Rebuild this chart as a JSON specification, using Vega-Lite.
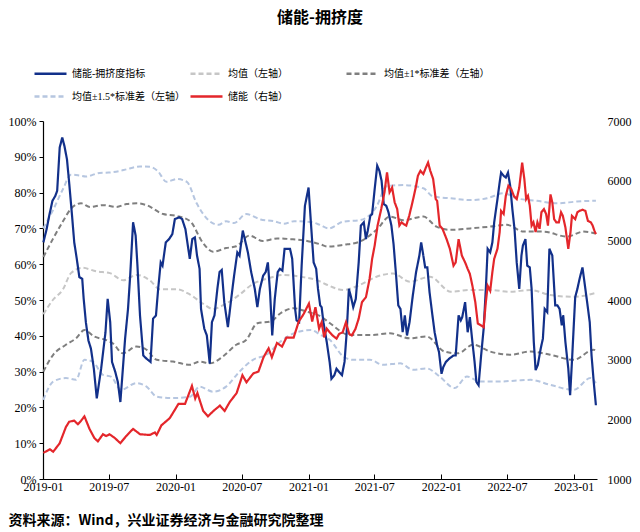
{
"$schema": "https://vega.github.io/schema/vega-lite/v6.json",
"width": 554, "height": 358,
"autosize": {"type": "none"},
"padding": {"left": 43, "top": 121, "right": 43, "bottom": 53},
"title": {"text": "储能-拥挤度", "font": "Noto Sans CJK SC", "fontSize": 16, "fontWeight": "bold", "color": "#000", "anchor": "middle", "offset": 30},
"datasets": {
"mean": [{"d":"2019-01-02","v":46},{"d":"2019-01-28","v":50},{"d":"2019-02-25","v":53},{"d":"2019-03-19","v":57.5},{"d":"2019-04-19","v":59},{"d":"2019-05-28","v":58},{"d":"2019-07-04","v":57.5},{"d":"2019-08-10","v":55.5},{"d":"2019-09-16","v":57},{"d":"2019-10-22","v":55.5},{"d":"2019-11-19","v":53},{"d":"2020-01-04","v":53},{"d":"2020-02-10","v":51.5},{"d":"2020-03-16","v":49},{"d":"2020-04-13","v":47.5},{"d":"2020-05-19","v":49},{"d":"2020-06-25","v":51.5},{"d":"2020-08-01","v":54.5},{"d":"2020-09-10","v":56},{"d":"2020-10-25","v":57},{"d":"2020-12-10","v":56.5},{"d":"2021-01-25","v":55.5},{"d":"2021-02-22","v":54.2},{"d":"2021-04-07","v":52.8},{"d":"2021-05-22","v":54.2},{"d":"2021-07-07","v":56.5},{"d":"2021-08-22","v":57.4},{"d":"2021-10-07","v":55.1},{"d":"2021-12-01","v":56.5},{"d":"2022-01-28","v":52.3},{"d":"2022-03-22","v":52.8},{"d":"2022-05-16","v":52.8},{"d":"2022-07-10","v":52.3},{"d":"2022-09-04","v":52.8},{"d":"2022-10-28","v":51.4},{"d":"2023-01-01","v":50.9},{"d":"2023-03-03","v":52.0}],
"u1": [{"d":"2019-01-02","v":62},{"d":"2019-01-28","v":67},{"d":"2019-02-25","v":72},{"d":"2019-03-19","v":75.5},{"d":"2019-04-16","v":77},{"d":"2019-05-10","v":76},{"d":"2019-06-16","v":76.5},{"d":"2019-07-22","v":76},{"d":"2019-08-19","v":76.8},{"d":"2019-09-16","v":77},{"d":"2019-10-13","v":76.5},{"d":"2019-11-28","v":74},{"d":"2020-01-04","v":73.5},{"d":"2020-02-10","v":72},{"d":"2020-03-16","v":66},{"d":"2020-04-13","v":63.5},{"d":"2020-05-19","v":64.5},{"d":"2020-06-16","v":65},{"d":"2020-07-22","v":68},{"d":"2020-08-28","v":66.5},{"d":"2020-10-07","v":67.2},{"d":"2020-11-13","v":67},{"d":"2020-12-28","v":66.5},{"d":"2021-02-04","v":65.5},{"d":"2021-02-22","v":64.9},{"d":"2021-04-07","v":65.4},{"d":"2021-05-22","v":66.3},{"d":"2021-07-07","v":69.6},{"d":"2021-08-13","v":73.3},{"d":"2021-09-19","v":72.3},{"d":"2021-11-13","v":73.3},{"d":"2021-12-19","v":70.5},{"d":"2022-01-28","v":69.6},{"d":"2022-03-22","v":70.0},{"d":"2022-05-16","v":70.5},{"d":"2022-07-01","v":71.0},{"d":"2022-08-16","v":69.1},{"d":"2022-10-10","v":69.1},{"d":"2022-12-13","v":67.7},{"d":"2023-01-28","v":69.1},{"d":"2023-03-03","v":68.6}],
"l1": [{"d":"2019-01-02","v":30},{"d":"2019-01-29","v":34.7},{"d":"2019-03-05","v":37.5},{"d":"2019-04-02","v":39.3},{"d":"2019-04-25","v":41.6},{"d":"2019-05-22","v":39.8},{"d":"2019-06-24","v":38.8},{"d":"2019-07-12","v":37.9},{"d":"2019-08-09","v":35.1},{"d":"2019-09-15","v":37},{"d":"2019-10-13","v":36.1},{"d":"2019-11-10","v":33.3},{"d":"2019-12-25","v":32.8},{"d":"2020-02-10","v":31.9},{"d":"2020-03-07","v":32.8},{"d":"2020-04-04","v":32.3},{"d":"2020-05-10","v":34.2},{"d":"2020-06-16","v":37.5},{"d":"2020-07-13","v":38.8},{"d":"2020-08-13","v":43.5},{"d":"2020-09-19","v":44},{"d":"2020-10-16","v":46.3},{"d":"2020-11-22","v":47.7},{"d":"2020-12-28","v":46.7},{"d":"2021-02-04","v":45.4},{"d":"2021-03-01","v":43.5},{"d":"2021-04-25","v":40.2},{"d":"2021-06-19","v":40.2},{"d":"2021-08-13","v":40.7},{"d":"2021-10-07","v":39.3},{"d":"2021-11-22","v":39.8},{"d":"2022-01-10","v":35.6},{"d":"2022-02-16","v":35.1},{"d":"2022-03-30","v":37.5},{"d":"2022-05-16","v":35.6},{"d":"2022-07-10","v":34.7},{"d":"2022-09-04","v":35.6},{"d":"2022-10-28","v":34.7},{"d":"2023-01-01","v":33.3},{"d":"2023-02-25","v":36.1},{"d":"2023-03-03","v":35.8}],
"u15": [{"d":"2019-01-02","v":70},{"d":"2019-01-28","v":75},{"d":"2019-02-25","v":81},{"d":"2019-03-19","v":85},{"d":"2019-04-10","v":84.8},{"d":"2019-04-29","v":84.5},{"d":"2019-06-06","v":85.5},{"d":"2019-07-01","v":85.6},{"d":"2019-07-30","v":86},{"d":"2019-08-19","v":86.5},{"d":"2019-09-25","v":87.3},{"d":"2019-10-22","v":87.2},{"d":"2019-11-13","v":86},{"d":"2019-12-07","v":83},{"d":"2020-01-04","v":83.8},{"d":"2020-02-01","v":83},{"d":"2020-02-28","v":77},{"d":"2020-04-04","v":72},{"d":"2020-04-28","v":71},{"d":"2020-05-19","v":72},{"d":"2020-06-10","v":71.5},{"d":"2020-07-13","v":74},{"d":"2020-08-22","v":72.5},{"d":"2020-09-28","v":72},{"d":"2020-10-25","v":71.3},{"d":"2020-11-22","v":72},{"d":"2021-01-07","v":71.8},{"d":"2021-02-01","v":71},{"d":"2021-02-25","v":70},{"d":"2021-04-07","v":71.9},{"d":"2021-05-22","v":72.3},{"d":"2021-06-16","v":73.5},{"d":"2021-07-07","v":76.1},{"d":"2021-08-04","v":81.8},{"d":"2021-09-19","v":82.1},{"d":"2021-11-13","v":81.2},{"d":"2021-12-10","v":78.9},{"d":"2022-01-28","v":78.4},{"d":"2022-03-22","v":77.9},{"d":"2022-05-07","v":78.4},{"d":"2022-06-22","v":79.8},{"d":"2022-07-28","v":78.4},{"d":"2022-09-22","v":77.7},{"d":"2022-11-16","v":77.0},{"d":"2023-01-10","v":77.5},{"d":"2023-02-25","v":77.7},{"d":"2023-03-03","v":77.7}],
"l15": [{"d":"2019-01-02","v":22.1},{"d":"2019-01-29","v":27.2},{"d":"2019-03-05","v":28.2},{"d":"2019-04-02","v":27.7},{"d":"2019-04-25","v":33.3},{"d":"2019-05-18","v":32.8},{"d":"2019-06-15","v":29.1},{"d":"2019-07-07","v":28.6},{"d":"2019-08-04","v":24.9},{"d":"2019-09-15","v":26.8},{"d":"2019-10-13","v":25.8},{"d":"2019-11-10","v":23},{"d":"2019-12-25","v":22.6},{"d":"2020-02-10","v":23},{"d":"2020-03-07","v":25.8},{"d":"2020-04-13","v":24.4},{"d":"2020-05-19","v":25.8},{"d":"2020-06-25","v":30},{"d":"2020-08-01","v":33.3},{"d":"2020-09-07","v":34.7},{"d":"2020-10-16","v":38.4},{"d":"2020-11-22","v":40.7},{"d":"2021-01-07","v":41.6},{"d":"2021-02-04","v":40.2},{"d":"2021-03-01","v":38.8},{"d":"2021-04-07","v":34.2},{"d":"2021-05-04","v":33.3},{"d":"2021-06-19","v":33.3},{"d":"2021-07-25","v":31.9},{"d":"2021-09-10","v":32.3},{"d":"2021-10-16","v":30.5},{"d":"2021-11-22","v":30.9},{"d":"2021-12-28","v":28.6},{"d":"2022-02-07","v":25.4},{"d":"2022-03-13","v":28.6},{"d":"2022-04-19","v":27.2},{"d":"2022-06-04","v":27.2},{"d":"2022-07-28","v":27.5},{"d":"2022-09-04","v":27.7},{"d":"2022-10-28","v":26.3},{"d":"2023-01-01","v":24.9},{"d":"2023-02-16","v":28.2},{"d":"2023-03-03","v":26.8}],
"blue": [{"d":"2019-01-02","v":66.1},{"d":"2019-01-11","v":69.8},{"d":"2019-01-18","v":73.5},{"d":"2019-01-27","v":77.7},{"d":"2019-02-04","v":79.1},{"d":"2019-02-09","v":80.5},{"d":"2019-02-16","v":92.6},{"d":"2019-02-23","v":95.4},{"d":"2019-03-01","v":93.0},{"d":"2019-03-08","v":89.3},{"d":"2019-03-14","v":82.8},{"d":"2019-03-22","v":73.5},{"d":"2019-03-28","v":66.1},{"d":"2019-04-04","v":61.5},{"d":"2019-04-11","v":56.4},{"d":"2019-04-19","v":55.9},{"d":"2019-04-23","v":50.3},{"d":"2019-04-29","v":43.8},{"d":"2019-05-06","v":38.7},{"d":"2019-05-13","v":36.4},{"d":"2019-05-21","v":30.8},{"d":"2019-05-29","v":22.5},{"d":"2019-06-10","v":30.8},{"d":"2019-06-22","v":41.0},{"d":"2019-06-28","v":50.3},{"d":"2019-07-05","v":43.8},{"d":"2019-07-10","v":32.7},{"d":"2019-07-19","v":29.9},{"d":"2019-07-26","v":27.1},{"d":"2019-08-02","v":21.5},{"d":"2019-08-15","v":39.2},{"d":"2019-08-23","v":47.5},{"d":"2019-08-29","v":56.8},{"d":"2019-09-06","v":71.7},{"d":"2019-09-13","v":68.0},{"d":"2019-09-18","v":59.6},{"d":"2019-09-25","v":45.7},{"d":"2019-10-04","v":34.5},{"d":"2019-10-13","v":33.6},{"d":"2019-10-24","v":32.7},{"d":"2019-10-31","v":44.8},{"d":"2019-11-08","v":45.7},{"d":"2019-11-14","v":53.1},{"d":"2019-11-21","v":60.5},{"d":"2019-11-26","v":59.6},{"d":"2019-12-05","v":66.1},{"d":"2019-12-14","v":67.0},{"d":"2019-12-23","v":68.4},{"d":"2019-12-30","v":72.6},{"d":"2020-01-11","v":73.1},{"d":"2020-01-19","v":72.6},{"d":"2020-01-28","v":69.8},{"d":"2020-02-05","v":64.3},{"d":"2020-02-09","v":61.5},{"d":"2020-02-16","v":67.0},{"d":"2020-02-23","v":67.5},{"d":"2020-02-29","v":62.4},{"d":"2020-03-07","v":58.7},{"d":"2020-03-11","v":47.5},{"d":"2020-03-20","v":42.0},{"d":"2020-03-27","v":40.1},{"d":"2020-04-04","v":32.2},{"d":"2020-04-10","v":43.8},{"d":"2020-04-17","v":45.7},{"d":"2020-04-25","v":53.1},{"d":"2020-05-01","v":57.8},{"d":"2020-05-07","v":58.4},{"d":"2020-05-14","v":49.4},{"d":"2020-05-24","v":42.4},{"d":"2020-06-01","v":49.4},{"d":"2020-06-10","v":56.8},{"d":"2020-06-19","v":63.3},{"d":"2020-06-25","v":62.4},{"d":"2020-07-04","v":69.4},{"d":"2020-07-18","v":63.3},{"d":"2020-07-27","v":57.8},{"d":"2020-08-06","v":53.1},{"d":"2020-08-13","v":48.0},{"d":"2020-08-20","v":53.1},{"d":"2020-08-29","v":56.8},{"d":"2020-09-05","v":57.8},{"d":"2020-09-11","v":60.5},{"d":"2020-09-17","v":52.2},{"d":"2020-09-23","v":40.1},{"d":"2020-09-30","v":50.3},{"d":"2020-10-08","v":57.8},{"d":"2020-10-14","v":58.7},{"d":"2020-10-21","v":58.2},{"d":"2020-10-27","v":64.3},{"d":"2020-11-02","v":64.3},{"d":"2020-11-11","v":64.3},{"d":"2020-11-17","v":61.5},{"d":"2020-11-25","v":47.5},{"d":"2020-11-29","v":44.3},{"d":"2020-12-06","v":43.8},{"d":"2020-12-13","v":59.6},{"d":"2020-12-22","v":76.3},{"d":"2021-01-01","v":81.4},{"d":"2021-01-08","v":70.8},{"d":"2021-01-15","v":60.5},{"d":"2021-01-22","v":58.7},{"d":"2021-01-27","v":53.1},{"d":"2021-02-02","v":48.5},{"d":"2021-02-06","v":48.0},{"d":"2021-02-11","v":43.8},{"d":"2021-02-20","v":38.3},{"d":"2021-02-28","v":32.7},{"d":"2021-03-05","v":28.0},{"d":"2021-03-13","v":29.0},{"d":"2021-03-19","v":30.8},{"d":"2021-03-26","v":29.9},{"d":"2021-04-03","v":29.0},{"d":"2021-04-10","v":32.7},{"d":"2021-04-16","v":41.0},{"d":"2021-04-22","v":53.1},{"d":"2021-04-28","v":50.8},{"d":"2021-05-04","v":48.0},{"d":"2021-05-11","v":50.3},{"d":"2021-05-19","v":60.5},{"d":"2021-05-25","v":70.8},{"d":"2021-06-02","v":71.7},{"d":"2021-06-08","v":67.0},{"d":"2021-06-13","v":69.4},{"d":"2021-06-20","v":73.5},{"d":"2021-06-25","v":74.0},{"d":"2021-07-02","v":81.0},{"d":"2021-07-09","v":87.5},{"d":"2021-07-15","v":86.1},{"d":"2021-07-21","v":83.3},{"d":"2021-07-27","v":76.8},{"d":"2021-08-03","v":76.3},{"d":"2021-08-09","v":74.5},{"d":"2021-08-17","v":70.8},{"d":"2021-08-23","v":65.6},{"d":"2021-08-30","v":56.8},{"d":"2021-09-05","v":48.5},{"d":"2021-09-11","v":47.5},{"d":"2021-09-17","v":41.0},{"d":"2021-09-23","v":45.7},{"d":"2021-09-29","v":40.1},{"d":"2021-10-06","v":43.8},{"d":"2021-10-15","v":51.3},{"d":"2021-10-24","v":57.8},{"d":"2021-11-02","v":62.4},{"d":"2021-11-07","v":66.1},{"d":"2021-11-13","v":62.4},{"d":"2021-11-18","v":59.1},{"d":"2021-11-24","v":59.1},{"d":"2021-11-30","v":52.2},{"d":"2021-12-08","v":45.7},{"d":"2021-12-14","v":41.0},{"d":"2021-12-21","v":37.3},{"d":"2021-12-26","v":35.5},{"d":"2022-01-02","v":29.4},{"d":"2022-01-07","v":31.3},{"d":"2022-01-14","v":32.7},{"d":"2022-01-23","v":33.6},{"d":"2022-02-04","v":34.5},{"d":"2022-02-10","v":34.5},{"d":"2022-02-18","v":45.7},{"d":"2022-02-24","v":44.3},{"d":"2022-02-28","v":45.2},{"d":"2022-03-08","v":49.4},{"d":"2022-03-15","v":41.0},{"d":"2022-03-21","v":45.2},{"d":"2022-03-28","v":38.3},{"d":"2022-04-03","v":32.7},{"d":"2022-04-08","v":27.1},{"d":"2022-04-14","v":26.2},{"d":"2022-04-21","v":34.5},{"d":"2022-04-28","v":42.0},{"d":"2022-05-04","v":53.1},{"d":"2022-05-09","v":64.3},{"d":"2022-05-16","v":63.3},{"d":"2022-05-22","v":66.1},{"d":"2022-05-27","v":71.7},{"d":"2022-06-05","v":78.2},{"d":"2022-06-11","v":82.8},{"d":"2022-06-15","v":85.6},{"d":"2022-06-22","v":84.7},{"d":"2022-06-28","v":84.2},{"d":"2022-07-04","v":85.6},{"d":"2022-07-10","v":81.9},{"d":"2022-07-16","v":75.4},{"d":"2022-07-22","v":69.8},{"d":"2022-07-28","v":60.5},{"d":"2022-08-04","v":53.1},{"d":"2022-08-10","v":62.4},{"d":"2022-08-14","v":65.2},{"d":"2022-08-21","v":67.0},{"d":"2022-08-26","v":59.6},{"d":"2022-09-02","v":59.1},{"d":"2022-09-07","v":53.1},{"d":"2022-09-13","v":38.3},{"d":"2022-09-18","v":30.4},{"d":"2022-09-24","v":31.8},{"d":"2022-10-02","v":36.4},{"d":"2022-10-08","v":39.2},{"d":"2022-10-13","v":47.5},{"d":"2022-10-20","v":46.6},{"d":"2022-10-26","v":64.3},{"d":"2022-11-03","v":62.4},{"d":"2022-11-11","v":48.5},{"d":"2022-11-17","v":48.5},{"d":"2022-11-23","v":47.5},{"d":"2022-11-29","v":42.9},{"d":"2022-12-03","v":45.7},{"d":"2022-12-09","v":38.3},{"d":"2022-12-17","v":30.8},{"d":"2022-12-22","v":23.4},{"d":"2022-12-27","v":32.7},{"d":"2023-01-05","v":50.8},{"d":"2023-01-11","v":53.1},{"d":"2023-01-17","v":55.9},{"d":"2023-01-25","v":59.1},{"d":"2023-02-02","v":53.1},{"d":"2023-02-08","v":48.5},{"d":"2023-02-14","v":43.8},{"d":"2023-02-19","v":34.5},{"d":"2023-02-25","v":27.1},{"d":"2023-03-03","v":20.6}],
"red": [{"d":"2019-01-02","v":1438},{"d":"2019-01-20","v":1498},{"d":"2019-01-29","v":1456},{"d":"2019-02-16","v":1600},{"d":"2019-03-05","v":1870},{"d":"2019-03-14","v":1960},{"d":"2019-03-28","v":1978},{"d":"2019-04-07","v":1918},{"d":"2019-04-16","v":1978},{"d":"2019-04-25","v":2050},{"d":"2019-05-09","v":1840},{"d":"2019-05-22","v":1690},{"d":"2019-06-01","v":1630},{"d":"2019-06-15","v":1750},{"d":"2019-06-24","v":1720},{"d":"2019-07-03","v":1750},{"d":"2019-07-17","v":1690},{"d":"2019-08-02","v":1600},{"d":"2019-08-18","v":1720},{"d":"2019-09-06","v":1840},{"d":"2019-09-25","v":1750},{"d":"2019-10-22","v":1738},{"d":"2019-11-05","v":1780},{"d":"2019-11-10","v":1738},{"d":"2019-11-23","v":1900},{"d":"2019-12-16","v":2020},{"d":"2020-01-09","v":2260},{"d":"2020-01-27","v":2260},{"d":"2020-02-15","v":2560},{"d":"2020-02-24","v":2350},{"d":"2020-03-01","v":2440},{"d":"2020-03-17","v":2140},{"d":"2020-03-30","v":2050},{"d":"2020-04-14","v":2140},{"d":"2020-05-02","v":2230},{"d":"2020-05-15","v":2140},{"d":"2020-05-29","v":2290},{"d":"2020-06-17","v":2440},{"d":"2020-07-03","v":2740},{"d":"2020-07-14","v":2620},{"d":"2020-08-02","v":2770},{"d":"2020-08-16","v":2800},{"d":"2020-08-30","v":3040},{"d":"2020-09-13","v":3190},{"d":"2020-09-22","v":3040},{"d":"2020-10-06","v":3280},{"d":"2020-10-20","v":3220},{"d":"2020-11-01","v":3370},{"d":"2020-11-21","v":3370},{"d":"2020-12-05","v":3640},{"d":"2020-12-18","v":3760},{"d":"2021-01-02","v":3940},{"d":"2021-01-11","v":3640},{"d":"2021-01-20","v":3880},{"d":"2021-01-30","v":3520},{"d":"2021-02-06","v":3628},{"d":"2021-02-13","v":3376},{"d":"2021-02-20","v":3520},{"d":"2021-02-28","v":3460},{"d":"2021-03-08","v":3406},{"d":"2021-03-19","v":3352},{"d":"2021-03-26","v":3430},{"d":"2021-04-05","v":3460},{"d":"2021-04-14","v":3628},{"d":"2021-04-23","v":3430},{"d":"2021-04-30","v":3406},{"d":"2021-05-10","v":3514},{"d":"2021-05-19","v":3688},{"d":"2021-05-28","v":3964},{"d":"2021-06-08","v":4048},{"d":"2021-06-18","v":4354},{"d":"2021-06-25","v":4690},{"d":"2021-07-02","v":4912},{"d":"2021-07-10","v":5248},{"d":"2021-07-20","v":5524},{"d":"2021-07-29","v":5806},{"d":"2021-08-05","v":6140},{"d":"2021-08-12","v":5806},{"d":"2021-08-19","v":5884},{"d":"2021-08-26","v":5638},{"d":"2021-09-02","v":5524},{"d":"2021-09-08","v":5248},{"d":"2021-09-14","v":5302},{"d":"2021-09-20","v":5272},{"d":"2021-09-27","v":5248},{"d":"2021-10-05","v":5410},{"d":"2021-10-14","v":5638},{"d":"2021-10-23","v":5884},{"d":"2021-10-29","v":6082},{"d":"2021-11-05","v":6166},{"d":"2021-11-13","v":6112},{"d":"2021-11-20","v":6220},{"d":"2021-11-26","v":6304},{"d":"2021-12-02","v":6166},{"d":"2021-12-10","v":6028},{"d":"2021-12-17","v":5692},{"d":"2021-12-21","v":5662},{"d":"2021-12-28","v":5248},{"d":"2022-01-05","v":5188},{"d":"2022-01-16","v":5020},{"d":"2022-01-25","v":4858},{"d":"2022-02-04","v":4576},{"d":"2022-02-10","v":4630},{"d":"2022-02-18","v":5020},{"d":"2022-02-27","v":4744},{"d":"2022-03-08","v":4630},{"d":"2022-03-15","v":4522},{"d":"2022-03-21","v":4438},{"d":"2022-03-28","v":4240},{"d":"2022-04-05","v":3964},{"d":"2022-04-12","v":3604},{"d":"2022-04-21","v":3574},{"d":"2022-04-28","v":3544},{"d":"2022-05-04","v":3964},{"d":"2022-05-09","v":4240},{"d":"2022-05-16","v":4156},{"d":"2022-05-22","v":4468},{"d":"2022-05-27","v":4690},{"d":"2022-06-05","v":4858},{"d":"2022-06-11","v":5134},{"d":"2022-06-15","v":5494},{"d":"2022-06-22","v":5440},{"d":"2022-06-28","v":5746},{"d":"2022-07-05","v":5914},{"d":"2022-07-13","v":5860},{"d":"2022-07-20","v":5746},{"d":"2022-07-28","v":5692},{"d":"2022-08-04","v":5884},{"d":"2022-08-12","v":6304},{"d":"2022-08-18","v":6028},{"d":"2022-08-23","v":5692},{"d":"2022-08-28","v":5746},{"d":"2022-09-02","v":5578},{"d":"2022-09-07","v":5248},{"d":"2022-09-12","v":5302},{"d":"2022-09-18","v":5140},{"d":"2022-09-23","v":5302},{"d":"2022-09-29","v":5194},{"d":"2022-10-04","v":5470},{"d":"2022-10-11","v":5524},{"d":"2022-10-17","v":5440},{"d":"2022-10-22","v":5248},{"d":"2022-10-29","v":5770},{"d":"2022-11-03","v":5632},{"d":"2022-11-08","v":5356},{"d":"2022-11-14","v":5302},{"d":"2022-11-21","v":5302},{"d":"2022-11-27","v":5470},{"d":"2022-12-02","v":5410},{"d":"2022-12-09","v":5218},{"d":"2022-12-17","v":4858},{"d":"2022-12-23","v":5134},{"d":"2022-12-27","v":5410},{"d":"2023-01-05","v":5356},{"d":"2023-01-11","v":5470},{"d":"2023-01-17","v":5494},{"d":"2023-01-25","v":5512},{"d":"2023-02-02","v":5494},{"d":"2023-02-09","v":5326},{"d":"2023-02-17","v":5302},{"d":"2023-02-22","v":5248},{"d":"2023-02-27","v":5158},{"d":"2023-03-03","v":5104}]
},
"layer": [
{"layer": [
{"data": {"name": "mean"}, "mark": {"type": "line", "strokeWidth": 2, "interpolate": "monotone"},
 "encoding": {
  "x": {"field": "d", "type": "temporal", "scale": {"domain": [{"year": 2019, "month": 1, "date": 1}, {"year": 2023, "month": 3, "date": 6}]},
        "axis": {"format": "%Y-%m", "tickCount": {"interval": "month", "step": 6}, "tickSize": -5, "labelPadding": 7, "labelFlush": false, "labelOverlap": false,
                 "title": "资料来源：Wind，兴业证券经济与金融研究院整理", "titleAnchor": "start", "titleX": -35, "titleY": 41, "titleBaseline": "middle", "titleAlign": "left",
                 "titleFont": "Noto Sans CJK SC", "titleFontSize": 14, "titleFontWeight": "bold", "titleColor": "#000"}},
  "y": {"field": "v", "type": "quantitative", "scale": {"domain": [0, 100], "nice": false},
        "axis": {"tickCount": 10, "labelExpr": "datum.value + '%'", "title": null, "tickSize": 4, "labelPadding": 3, "labelOverlap": false, "labelSeparation": 0}},
  "color": {"datum": "均值（左轴）", "type": "nominal",
            "scale": {"domain": ["储能-拥挤度指标", "均值（左轴）", "均值±1*标准差（左轴）", "均值±1.5*标准差（左轴）", "储能（右轴）"],
                      "range": ["#12308a", "#c6c6c6", "#7f7f7f", "#b6c6e0", "#e4262b"]},
            "legend": {"title": null}},
  "strokeDash": {"datum": "均值（左轴）", "type": "nominal",
            "scale": {"domain": ["储能-拥挤度指标", "均值（左轴）", "均值±1*标准差（左轴）", "均值±1.5*标准差（左轴）", "储能（右轴）"],
                      "range": [[1, 0], [5, 3], [5, 3], [5, 3], [1, 0]]},
            "legend": {"title": null}}
 }},
{"data": {"name": "u1"}, "mark": {"type": "line", "strokeWidth": 2, "interpolate": "monotone"},
 "encoding": {"x": {"field": "d", "type": "temporal"}, "y": {"field": "v", "type": "quantitative"},
  "color": {"datum": "均值±1*标准差（左轴）", "type": "nominal"}, "strokeDash": {"datum": "均值±1*标准差（左轴）", "type": "nominal"}}},
{"data": {"name": "l1"}, "mark": {"type": "line", "strokeWidth": 2, "interpolate": "monotone"},
 "encoding": {"x": {"field": "d", "type": "temporal"}, "y": {"field": "v", "type": "quantitative"},
  "color": {"datum": "均值±1*标准差（左轴）", "type": "nominal"}, "strokeDash": {"datum": "均值±1*标准差（左轴）", "type": "nominal"}}},
{"data": {"name": "u15"}, "mark": {"type": "line", "strokeWidth": 2, "interpolate": "monotone"},
 "encoding": {"x": {"field": "d", "type": "temporal"}, "y": {"field": "v", "type": "quantitative"},
  "color": {"datum": "均值±1.5*标准差（左轴）", "type": "nominal"}, "strokeDash": {"datum": "均值±1.5*标准差（左轴）", "type": "nominal"}}},
{"data": {"name": "l15"}, "mark": {"type": "line", "strokeWidth": 2, "interpolate": "monotone"},
 "encoding": {"x": {"field": "d", "type": "temporal"}, "y": {"field": "v", "type": "quantitative"},
  "color": {"datum": "均值±1.5*标准差（左轴）", "type": "nominal"}, "strokeDash": {"datum": "均值±1.5*标准差（左轴）", "type": "nominal"}}},
{"data": {"name": "blue"}, "mark": {"type": "line", "strokeWidth": 2.2},
 "encoding": {"x": {"field": "d", "type": "temporal"}, "y": {"field": "v", "type": "quantitative"},
  "color": {"datum": "储能-拥挤度指标", "type": "nominal"}, "strokeDash": {"datum": "储能-拥挤度指标", "type": "nominal"}}}
]},
{"data": {"name": "red"}, "mark": {"type": "line", "strokeWidth": 2.2},
 "encoding": {"x": {"field": "d", "type": "temporal"},
  "y": {"field": "v", "type": "quantitative", "scale": {"domain": [1000, 7000]},
        "axis": {"orient": "right", "values": [1000,2000,3000,4000,5000,6000,7000], "format": "d", "domain": false, "ticks": false, "labelPadding": 10, "title": null, "labelOverlap": false}},
  "color": {"datum": "储能（右轴）", "type": "nominal"}, "strokeDash": {"datum": "储能（右轴）", "type": "nominal"}}}
],
"resolve": {"scale": {"y": "independent"}},
"config": {
 "view": {"stroke": null},
 "axis": {"labelFont": "Liberation Serif", "labelFontSize": 12, "labelColor": "#000", "domainColor": "#000", "tickColor": "#000", "grid": false, "domainWidth": 1.2},
 "axisY": {"labelOverlap": false},
 "legend": {"orient": "none", "legendX": -10, "legendY": -65, "direction": "horizontal", "columns": 3, "gridAlign": "all",
            "symbolType": "stroke", "symbolSize": 1024, "symbolStrokeWidth": 2.5, "labelFont": "Liberation Serif, Noto Sans CJK SC", "labelFontSize": 10,
            "labelColor": "#000", "columnPadding": 0, "rowPadding": -9, "labelOffset": 4, "labelLimit": 200}
}
}
